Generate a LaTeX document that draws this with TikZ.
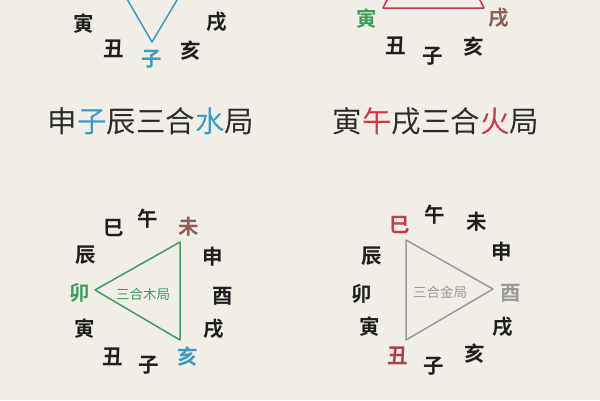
\documentclass[tikz,border=0pt]{standalone}
\usepackage{fontspec}
\newfontfamily\cjk{Noto Sans CJK SC}
\newfontfamily\cjkb{Noto Sans CJK SC Bold}
\definecolor{paper}{HTML}{F1EEE7}
\definecolor{ink}{HTML}{1E1E1E}
\definecolor{titleink}{HTML}{2B2B2B}
\definecolor{water}{HTML}{3A9AC4}
\definecolor{fire}{HTML}{C83A48}
\definecolor{wood}{HTML}{3A9E5A}
\definecolor{metal}{HTML}{9A9A9A}
\definecolor{earth}{HTML}{8E5E54}
\definecolor{dred}{HTML}{A8404A}
\tikzset{
  br/.style={font=\cjkb\fontsize{20.5}{21}\selectfont, text=ink, inner sep=0pt},
  ttl/.style={font=\cjk\fontsize{29.5}{30}\selectfont, text=titleink, inner sep=0pt},
  inner/.style={font=\cjk\fontsize{13.5}{14}\selectfont, inner sep=0pt},
  tri/.style={line width=1.5pt, line join=round}
}
\begin{document}
\begin{tikzpicture}[x=1pt,y=-1pt]
\fill[paper] (0,0) rectangle (600,400);
\useasboundingbox (0,0) rectangle (600,400);
\clip (0,0) rectangle (600,400);

% ---------- top-left: water ----------
\coordinate (wA) at (152,42);
\coordinate (wL) at (116,-20);
\coordinate (wR) at (189,-20);
\draw[tri, water] (wL) -- (wA) -- (wR);
\node[br] (w-yin) at (84,24) {寅};
\node[br] (w-chou) at (114,49) {丑};
\node[br, text=water] (w-zi) at (152,59) {子};
\node[br] (w-hai) at (191,51) {亥};
\node[br] (w-xu) at (217,22) {戌};

% ---------- top-right: fire ----------
\coordinate (fL) at (383,8);
\coordinate (fR) at (484,8);
\coordinate (fT) at (433,-90);
\draw[tri, fire] (fT) -- (fL) -- (fR) -- cycle;
\node[br, text=wood] (f-yin) at (367,19) {寅};
\node[br, text=earth] (f-xu) at (499,18) {戌};
\node[br] (f-chou) at (396,46) {丑};
\node[br] (f-zi) at (433,56) {子};
\node[br] (f-hai) at (474,47) {亥};

% ---------- titles ----------
\node[ttl] (t1) at (151,121) {申\textcolor{water}{子}辰三合\textcolor{water}{水}局};
\node[ttl] (t2) at (436,121) {寅\textcolor{fire}{午}戌三合\textcolor{fire}{火}局};

% ---------- bottom-left: wood ----------
\coordinate (mA) at (180,242);
\coordinate (mB) at (95,290);
\coordinate (mC) at (180,340);
\draw[tri, wood] (mA) -- (mB) -- (mC) -- cycle;
\node[inner, text=wood] (m-txt) at (143,294) {三合木局};
\node[br] (m-si) at (114,228) {巳};
\node[br] (m-wu) at (148,219) {午};
\node[br, text=earth] (m-wei) at (189,227) {未};
\node[br] (m-chen) at (86,255) {辰};
\node[br] (m-shen) at (213,257) {申};
\node[br, text=wood] (m-mao) at (80,293) {卯};
\node[br] (m-you) at (223,296) {酉};
\node[br] (m-yin) at (85,329) {寅};
\node[br] (m-xu) at (214,329) {戌};
\node[br] (m-chou) at (113,357) {丑};
\node[br] (m-zi) at (149,365) {子};
\node[br, text=water] (m-hai) at (188,357) {亥};

% ---------- bottom-right: metal ----------
\coordinate (jA) at (406,240);
\coordinate (jB) at (493,289);
\coordinate (jC) at (406,340);
\draw[tri, metal] (jA) -- (jB) -- (jC) -- cycle;
\node[inner, text=metal] (j-txt) at (440,292) {三合金局};
\node[br, text=fire] (j-si) at (400,225) {巳};
\node[br] (j-wu) at (435,215) {午};
\node[br] (j-wei) at (477,222) {未};
\node[br] (j-chen) at (372,256) {辰};
\node[br] (j-shen) at (502,252) {申};
\node[br] (j-mao) at (362,294) {卯};
\node[br, text=metal] (j-you) at (511,293) {酉};
\node[br] (j-yin) at (370,327) {寅};
\node[br] (j-xu) at (503,327) {戌};
\node[br, text=dred] (j-chou) at (398,356) {丑};
\node[br] (j-zi) at (434,366) {子};
\node[br] (j-hai) at (475,354) {亥};
\end{tikzpicture}
\end{document}
